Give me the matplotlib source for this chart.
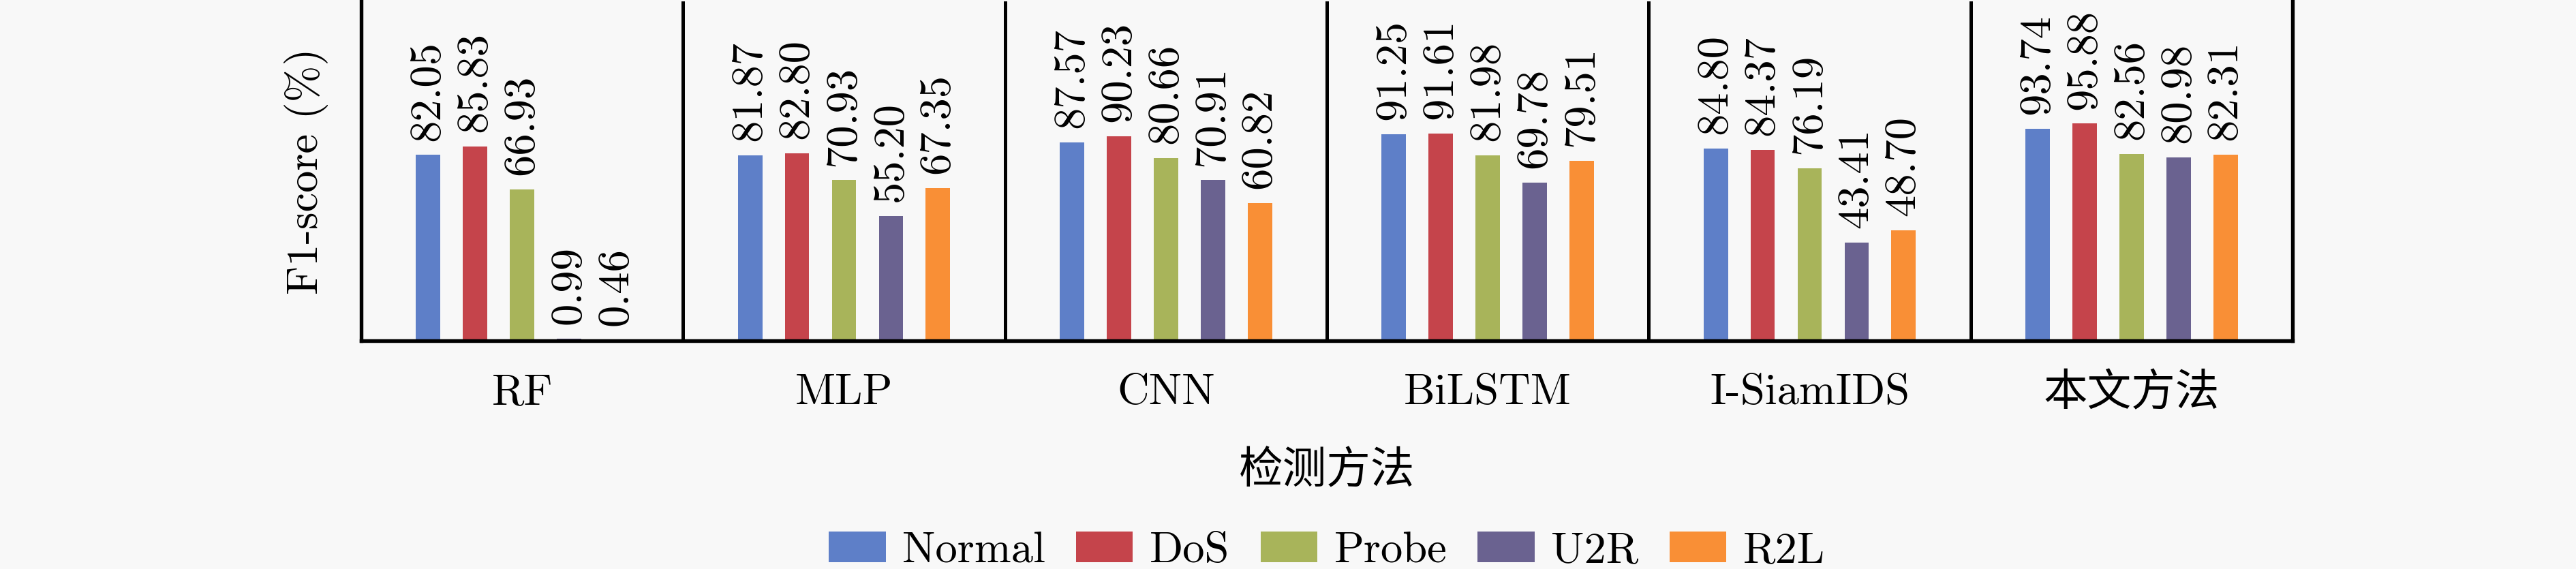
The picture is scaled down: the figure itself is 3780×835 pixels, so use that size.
import numpy as np
import matplotlib
matplotlib.use("Agg")
import matplotlib.pyplot as plt

plt.rcParams['font.family'] = ['cmr10', 'Noto Sans CJK SC', 'DejaVu Sans']

# detection methods (x categories)
methods = ['RF', 'MLP', 'CNN', 'BiLSTM', 'I-SiamIDS', '本文方法']

# F1-score (%) per attack class
normal = [82.05, 81.87, 87.57, 91.25, 84.80, 93.74]
dos    = [85.83, 82.80, 90.23, 91.61, 84.37, 95.88]
probe  = [66.93, 70.93, 80.66, 81.98, 76.19, 82.56]
u2r    = [0.99, 55.20, 70.91, 69.78, 43.41, 80.98]
r2l    = [0.46, 67.35, 60.82, 79.51, 48.70, 82.31]

series = ['Normal', 'DoS', 'Probe', 'U2R', 'R2L']
colors = ['#5E7FC8', '#C5444B', '#A8B45A', '#6A6290', '#F98F36']

bg = '#f8f8f8'
fig, ax = plt.subplots(figsize=(12.6, 835 / 300), dpi=300)
fig.patch.set_facecolor(bg)
ax.set_facecolor(bg)
fig.subplots_adjust(left=530 / 3780, right=3364 / 3780, bottom=335 / 835, top=0.998)

x = np.arange(len(methods))
step = 0.146
width = 0.076
data = [normal, dos, probe, u2r, r2l]
for i, (name, vals, c) in enumerate(zip(series, data, colors)):
    pos = x + (i - 2) * step
    ax.bar(pos, vals, width, color=c, label=name, zorder=2)
    for px, v in zip(pos, vals):
        ax.annotate('%.2f' % v, (px, v), xytext=(0, 5), textcoords='offset points',
                    rotation=90, ha='center', va='bottom', fontsize=15.5)

ax.set_xlim(-0.5, len(methods) - 0.5)
ax.set_ylim(0, 150)

# group separators
for b in np.arange(0.5, len(methods) - 0.5, 1):
    ax.axvline(b, color='black', lw=1.2, zorder=1)

for s in ['left', 'bottom', 'right']:
    ax.spines[s].set_linewidth(1.3)
ax.spines['top'].set_visible(False)

ax.set_yticks([])
ax.set_xticks(x)
ax.set_xticklabels(methods, fontsize=15.5)
ax.tick_params(axis='x', length=0, pad=11.5)
ax.get_xticklabels()[-1].set_fontweight('light')

ax.set_ylabel('F1-score (%)', fontsize=15.5)
ax.yaxis.set_label_coords(-0.017, 0.5)
ax.set_xlabel('检测方法', fontsize=15.5, fontweight='light')
ax.xaxis.set_label_coords(0.5, -0.325)

fig.legend(loc='center', bbox_to_anchor=(1947 / 3780, 0.031), ncol=5, frameon=False,
           fontsize=15.5, handlelength=1.29, handleheight=0.7, handletextpad=0.38,
           columnspacing=0.7, borderpad=0, borderaxespad=0)

fig.savefig('out.png', dpi=300, facecolor=bg)
